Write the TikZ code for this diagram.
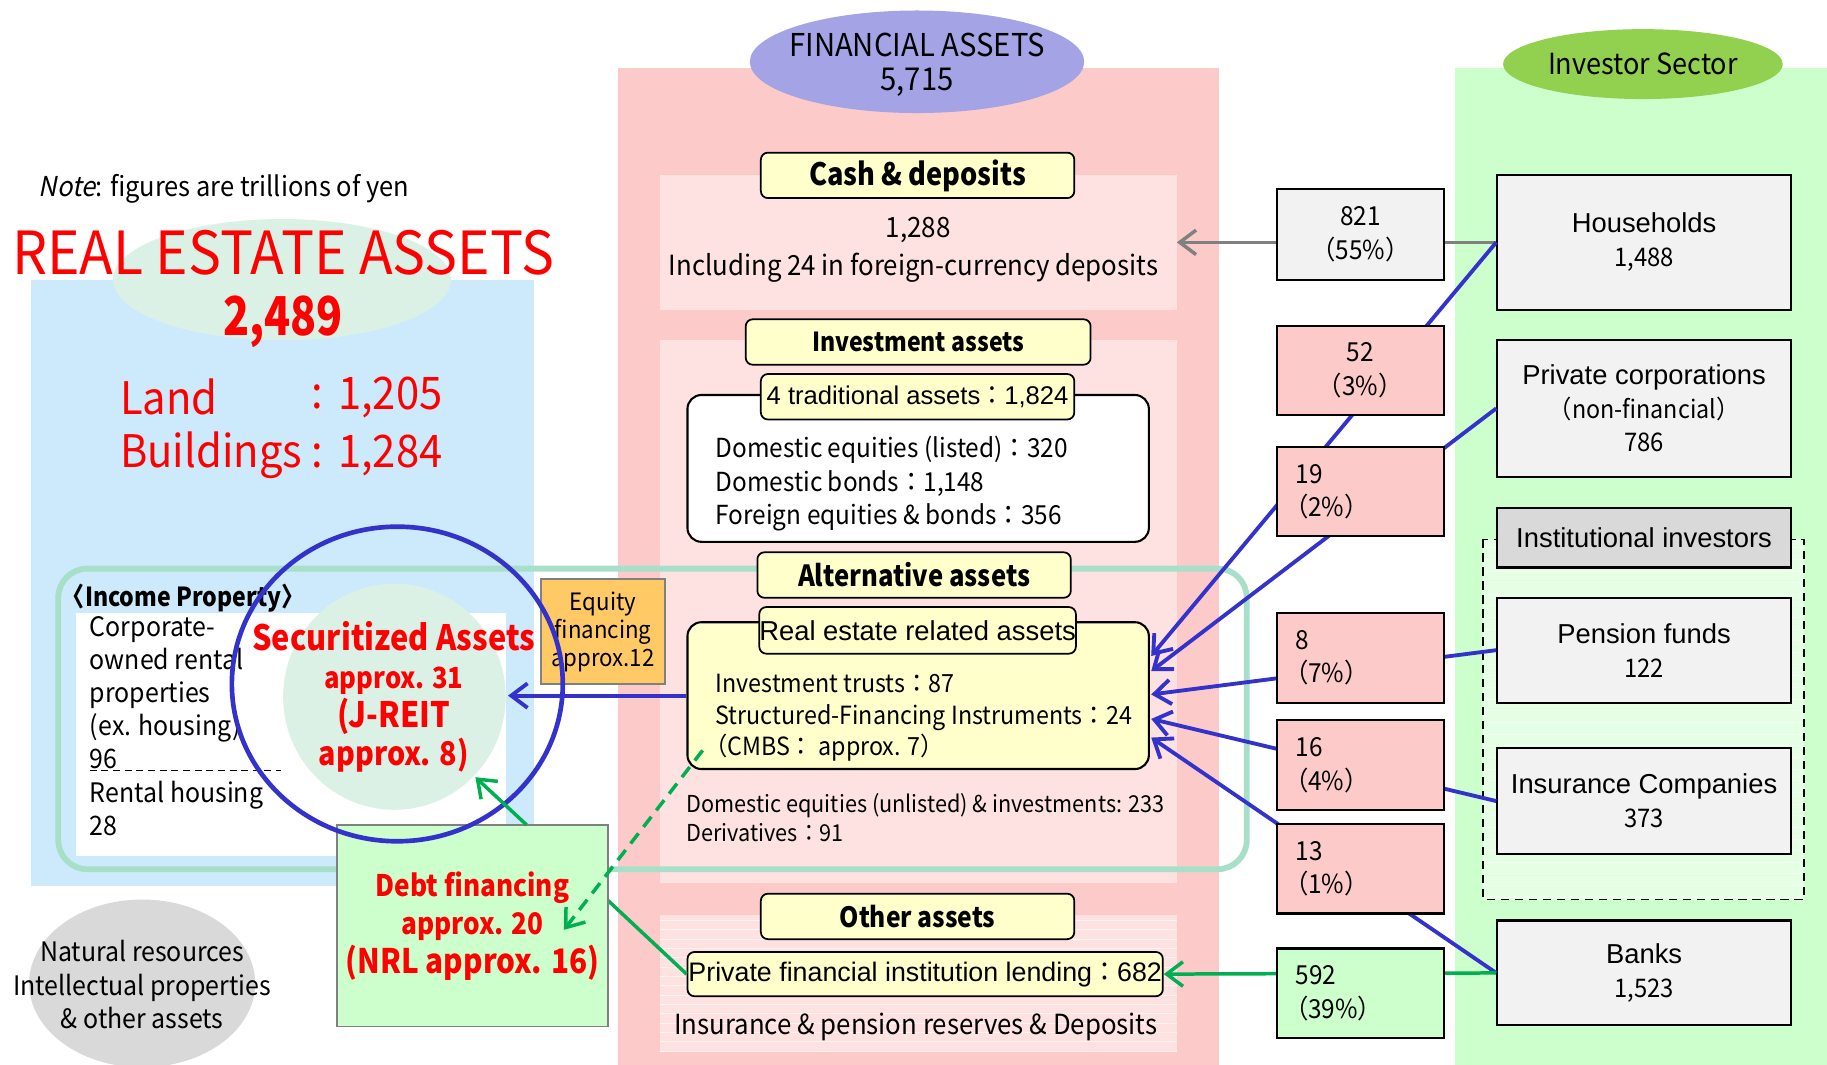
\documentclass[tikz,border=0pt]{standalone}
\usepackage{fontspec}
\setmainfont{Liberation Sans}
\newfontfamily\gth{Noto Sans CJK JP}[FakeStretch=0.93, BoldFeatures={FakeStretch=0.88}]
\newfontfamily\gthn{Noto Sans CJK JP}[FakeStretch=0.8]
\newfontfamily\gthsl{Noto Sans CJK JP}[FakeSlant=0.2, FakeStretch=0.93]
\usetikzlibrary{arrows.meta,shapes.geometric}
\newcommand\fsz[2]{\fontsize{#1}{#2}\selectfont}
\definecolor{reblue}{HTML}{CCEAFB}
\definecolor{fpink}{HTML}{FDCACA}
\definecolor{lpink}{HTML}{FEE1E1}
\definecolor{fyellow}{HTML}{FFFFCC}
\definecolor{igreen}{HTML}{CCFFCC}
\definecolor{dgreen}{HTML}{E4FFE4}
\definecolor{lav}{HTML}{A3A3E6}
\definecolor{ivgreen}{HTML}{92D050}
\definecolor{boxgray}{HTML}{F2F2F2}
\definecolor{hdrgray}{HTML}{D9D9D9}
\definecolor{orng}{HTML}{FFC966}
\definecolor{ipline}{HTML}{A8DFC8}
\definecolor{lblue}{HTML}{3333CC}
\definecolor{lgreen}{HTML}{00B050}
\definecolor{mint}{HTML}{DCF1E6}
\definecolor{redt}{HTML}{FF0000}
\definecolor{lgray}{HTML}{808080}
\begin{document}
\begin{tikzpicture}[x=1pt,y=-1pt,
  lbl/.style={draw=black, line width=1.5pt, fill=fyellow, rounded corners=6pt, inner sep=0pt, align=center},
  invbox/.style={draw=black, line width=1.8pt, fill=boxgray, inner sep=0pt, align=center, minimum width=252pt},
  flowbox/.style={draw=black, line width=1.8pt, fill=fpink, inner sep=0pt, minimum width=143pt, minimum height=77pt, font=\gth\fsz{22.5}{29}},
  flowL/.style={flowbox, align=left, text width=111pt, inner xsep=16pt},
  txt/.style={inner sep=0pt},
  arr/.style={-{Straight Barb[length=14pt,width=21pt]}},
  bl/.style={draw=lblue, line width=3.3pt},
  gl/.style={draw=lgreen, line width=3pt},
  gyl/.style={draw=lgray, line width=3pt}]
\useasboundingbox (0,0) rectangle (1568,914);
\fill[white] (0,0) rectangle (1568,914);
% backgrounds
\fill[reblue] (27,240) rectangle (458,760);
\node[ellipse, fill=mint, minimum width=290pt, minimum height=104pt, inner sep=0pt] (reell) at (242,240) {};
\fill[fpink] (530,58) rectangle (1046,914);
\fill[igreen] (1249,58) rectangle (1568,914);
\node[ellipse, fill=lav, minimum width=287pt, minimum height=88pt, inner sep=0pt] (fa) at (787,53) {};
\node[txt, align=center, font=\gth\fsz{27}{29}] (fat) at (787,55.5) {FINANCIAL ASSETS\\5,715};
\node[ellipse, fill=ivgreen, minimum width=240pt, minimum height=60pt, inner sep=0pt] (is) at (1410,55) {};
\node[txt, font=\gth\fsz{25}{28}] (ist) at (1410,55) {Investor Sector};
% panels
\fill[lpink] (566,150) rectangle (1010,266);
\fill[lpink] (566,292) rectangle (1010,758);
\fill[lpink] (566,785) rectangle (1010,903);
\foreach \yy in {790,798,...,902} \draw[white, opacity=0.6, line width=0.7pt] (566,\yy) -- (1010,\yy);
\draw[dashed, dash pattern=on 7pt off 5pt, line width=1.5pt, fill=dgreen] (1273,463) rectangle (1548,772);
\foreach \yy in {470,480,...,770} \draw[white, opacity=0.5, line width=0.7pt] (1274,\yy) -- (1547,\yy);
\fill[white] (65,526) rectangle (434,735);
\draw[ipline, line width=5pt, rounded corners=25pt] (50,488) rectangle (1070,746);
\node[ellipse, fill=hdrgray, minimum width=194pt, minimum height=144pt, inner sep=0pt] (nat) at (122,844) {};
\node[txt, align=center, font=\gth\fsz{23}{29}] (natt) at (122,845) {Natural resources\\Intellectual properties\\\& other assets};
\node[ellipse, fill=mint, minimum width=191pt, minimum height=194pt, inner sep=0pt] (sec) at (338.5,598) {};
% left texts
\node[txt, anchor=west, font=\gth\fsz{23.5}{28}] (note) at (33,162) {{\gthsl Note}: figures are trillions of yen};
\node[txt, text=redt, font=\gth\fsz{51}{56}] (ret) at (243,217) {REAL ESTATE ASSETS};
\node[txt, text=redt, font=\gthn\bfseries\fsz{46}{50}] (ren) at (243,276) {2,489};
\node[txt, text=redt, anchor=west, font=\gth\fsz{38.5}{44}] (land) at (103,341) {Land};
\node[txt, text=redt, font=\gth\fsz{38.5}{44}] (landc) at (272,341) {:};
\node[txt, text=redt, anchor=west, font=\gth\fsz{38.5}{44}] (landv) at (290,341) {1,205};
\node[txt, text=redt, anchor=west, font=\gth\fsz{38.5}{44}] (bld) at (103,391) {Buildings};
\node[txt, text=redt, font=\gth\fsz{38.5}{44}] (bldc) at (272,391) {:};
\node[txt, text=redt, anchor=west, font=\gth\fsz{38.5}{44}] (bldv) at (290,391) {1,284};
\node[txt, anchor=west, font=\gth\bfseries\fsz{22.5}{26}] (ipt) at (53,513) {〈Income Property〉};
\node[txt, anchor=west, align=left, font=\gth\fsz{23}{28.5}] (iplist) at (77,623) {Corporate-\\owned rental\\properties\\(ex. housing)\\96\\Rental housing\\28};
\draw[dashed, dash pattern=on 6pt off 4pt, line width=1pt] (77,661) -- (241,661);
% financial column
\node[lbl, minimum width=269pt, minimum height=39pt, font=\gth\bfseries\fsz{26.5}{30}] (cashl) at (787.5,150.5) {Cash \& deposits};
\node[txt, font=\gth\fsz{24}{28}] (cashv) at (788,197) {1,288};
\node[txt, font=\gth\fsz{23.8}{28}] (cashi) at (784,230) {Including 24 in foreign-currency deposits};
\node[lbl, minimum width=296pt, minimum height=39pt, font=\gth\bfseries\fsz{22.5}{28}] (invl) at (788,293.5) {Investment assets};
\node[draw=black, line width=1.8pt, fill=white, rounded corners=12pt, minimum width=396pt, minimum height=126pt, inner sep=0pt] (trad) at (788,402) {};
\node[lbl, minimum width=269pt, minimum height=39pt, font=\fsz{22}{26}] (tradl) at (787.5,340.5) {4 traditional assets{\gth ：}1,824};
\node[txt, anchor=west, align=left, font=\gth\fsz{22.5}{29}] (tradt) at (614,415) {Domestic equities (listed)：320\\Domestic bonds：1,148\\Foreign equities \& bonds：356};
\node[lbl, minimum width=269pt, minimum height=39pt, font=\gth\bfseries\fsz{25}{30}] (altl) at (784.5,493.5) {Alternative assets};
\node[draw=black, line width=1.8pt, fill=fyellow, rounded corners=12pt, minimum width=396pt, minimum height=126pt, inner sep=0pt] (reb) at (788,597) {};
\node[lbl, minimum width=269pt, minimum height=40pt, font=\fsz{23.5}{28}] (rel) at (787.5,541) {Real estate related assets};
\node[txt, anchor=west, align=left, font=\gth\fsz{21.5}{27}] (relist) at (614,616) {Investment trusts：87\\Structured-Financing Instruments：24\\\hspace*{-10pt}（CMBS： approx. 7）};
\node[txt, anchor=west, align=left, font=\gth\fsz{20}{25}] (unl) at (589,702) {Domestic equities (unlisted) \& investments: 233\\Derivatives：91};
\node[lbl, minimum width=269pt, minimum height=39pt, font=\gth\bfseries\fsz{24}{30}] (othl) at (787.5,786.5) {Other assets};
\node[lbl, minimum width=408pt, minimum height=38pt, font=\fsz{23}{28}] (lend) at (794,836) {Private financial institution lending{\gth ：}682};
\node[txt, font=\gth\fsz{23.8}{28}] (insr) at (786,881) {Insurance \& pension reserves \& Deposits};
% investor boxes
\node[invbox, minimum height=116pt, font=\fsz{23.5}{29}] (hh) at (1411,208) {Households\\{\gth\fsz{22}{29}1,488}};
\node[invbox, minimum height=117pt, font=\fsz{23.5}{29}] (pc) at (1411,350.5) {Private corporations\\{\gth\fsz{21.5}{29}（non-financial）}\\{\gth\fsz{22}{29}786}};
\node[invbox, fill=hdrgray, minimum height=51pt, font=\fsz{23.5}{29}] (ii) at (1411,461.5) {Institutional investors};
\node[invbox, minimum height=90pt, font=\fsz{23.5}{29}] (pf) at (1411,558) {Pension funds\\{\gth\fsz{22}{29}122}};
\node[invbox, minimum height=91pt, font=\fsz{23.5}{29}] (ic) at (1411,687.5) {Insurance Companies\\{\gth\fsz{22}{29}373}};
\node[invbox, minimum height=90pt, font=\fsz{23.5}{29}] (bk) at (1411,835) {Banks\\{\gth\fsz{22}{29}1,523}};
% connector end points
\coordinate (cashE) at (1010,208);
\coordinate (re1) at (988,563);
\coordinate (re2) at (988,576);
\coordinate (re3) at (988,596);
\coordinate (re4) at (988,617);
\coordinate (re5) at (988,633);
\coordinate (secE) at (436,597);
\coordinate (debtE) at (522,773);
\coordinate (dsh1) at (603,644);
\coordinate (dsh2) at (484,798);
\coordinate (debtN) at (452,708);
\coordinate (secSE) at (408,667);
% connectors
\draw[gyl, arr] (hh.west) -- (cashE);
\draw[bl, arr] (hh.west) -- (re1);
\draw[bl, arr] (pc.west) -- (re2);
\draw[bl, arr] (pf.west) -- (re3);
\draw[bl, arr] (ic.west) -- (re4);
\draw[bl, arr] (bk.west) -- (re5);
\draw[gl, arr] (bk.west) -- (lend.east);
\draw[gl] (lend.west) -- (debtE);
\draw[bl, arr] (reb.west) -- (secE);
% flow boxes
\node[flowbox, fill=boxgray, align=center, minimum height=78pt] (f821) at (1167.5,201) {821\\（55\%）};
\node[flowbox, align=center, minimum height=76pt] (f52) at (1167.5,318) {52\\（3\%）};
\node[flowL, minimum height=76pt] (f19) at (1167.5,422) {19\\\hspace*{-10pt}（2\%）};
\node[flowL] (f8) at (1167.5,564.5) {8\\\hspace*{-10pt}（7\%）};
\node[flowL] (f16) at (1167.5,656.5) {16\\\hspace*{-10pt}（4\%）};
\node[flowL] (f13) at (1167.5,745.5) {13\\\hspace*{-10pt}（1\%）};
\node[flowL, fill=igreen] (f592) at (1167.5,852.5) {592\\\hspace*{-10pt}（39\%）};
% securitized
\node[txt, text=redt, align=center, font=\gth\bfseries\fsz{30}{33}] (sect) at (338,598) {Securitized Assets\\{\fsz{25}{33}approx. 31}\\(J-REIT\\{\fsz{28}{33}approx. 8)}};
\node[draw=lgray, line width=1.5pt, fill=orng, minimum width=107pt, minimum height=90pt, inner sep=0pt, align=center, font=\gth\fsz{20.5}{24}] (eq) at (517.5,542) {Equity\\financing\\approx.12};
\node[draw=lgray, line width=1.5pt, fill=igreen, minimum width=233pt, minimum height=173pt, inner sep=0pt, align=center, text=redt, font=\gth\bfseries\fsz{25.5}{33}] (debt) at (405.5,794.5) {Debt financing\\approx. 20\\{\fsz{29}{33}(NRL approx. 16)}};
\node[ellipse, draw=lblue, line width=4pt, minimum width=284pt, minimum height=270pt, inner sep=0pt] (circ) at (341,587) {};
\draw[gl, arr] (debtN) -- (secSE);
\draw[gl, dashed, dash pattern=on 11pt off 7pt, arr] (dsh1) -- (dsh2);
\end{tikzpicture}
\end{document}
